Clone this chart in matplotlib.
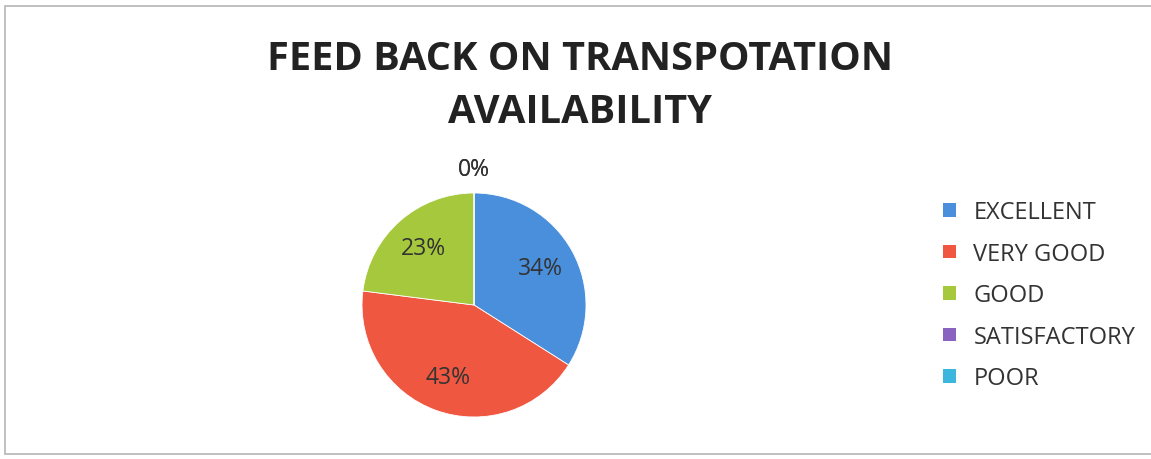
import matplotlib.pyplot as plt
import numpy as np
from matplotlib.patches import Rectangle, Patch

plt.rcParams['font.family'] = ['Open Sans', 'DejaVu Sans']

# data
categories = ['EXCELLENT', 'VERY GOOD', 'GOOD', 'SATISFACTORY', 'POOR']
shares = [34, 43, 23, 0, 0]
colors = ['#4a8fdc', '#ef5741', '#a6c83c', '#8a62bf', '#3db6dd']
title = 'FEED BACK ON TRANSPOTATION\nAVAILABILITY'

W, H = 1151, 460
fig = plt.figure(figsize=(W / 100, H / 100), dpi=100)

# light frame round the chart area
fig.patches.append(Rectangle((5 / W, 5 / H), 1 - 4 / W, 1 - 12 / H,
                             transform=fig.transFigure, fill=False,
                             edgecolor='#b5b5b5', linewidth=1.2))

fig.text(580 / W, 1 - 86 / H, title, ha='center', va='center',
         fontsize=28.6, fontweight='bold', color='#222222', linespacing=1.46)

# pie axes: centre (474, 306), radius 112 px
cx, cy, r = 474, 306, 112
ax = fig.add_axes([(cx - r) / W, 1 - (cy + r) / H, 2 * r / W, 2 * r / H])
wedges, texts, autotexts = ax.pie(
    shares, colors=colors, startangle=90, counterclock=False,
    autopct='%1.0f%%', pctdistance=0.68, radius=1,
    wedgeprops=dict(linewidth=0.6, edgecolor='white'),
    textprops=dict(fontsize=16.5, color='#333333'))
ax.set_xlim(-1, 1)
ax.set_ylim(-1, 1)
ax.set_aspect('equal')

# zero-size slices get their label outside the rim
for w, t, v in zip(wedges, autotexts, shares):
    if v == 0:
        th = np.deg2rad(w.theta1)
        t.set_position((1.21 * np.cos(th), 1.21 * np.sin(th)))

handles = [Patch(facecolor=c, edgecolor='none') for c in colors]
fig.legend(handles, categories, loc='upper left',
           bbox_to_anchor=(934 / W, 1 - 192 / H), borderaxespad=0,
           frameon=False, fontsize=17, labelcolor='#333333',
           handlelength=0.52, handleheight=0.52, handletextpad=0.75,
           labelspacing=0.74)

fig.savefig('out.png', dpi=100, facecolor='white')
